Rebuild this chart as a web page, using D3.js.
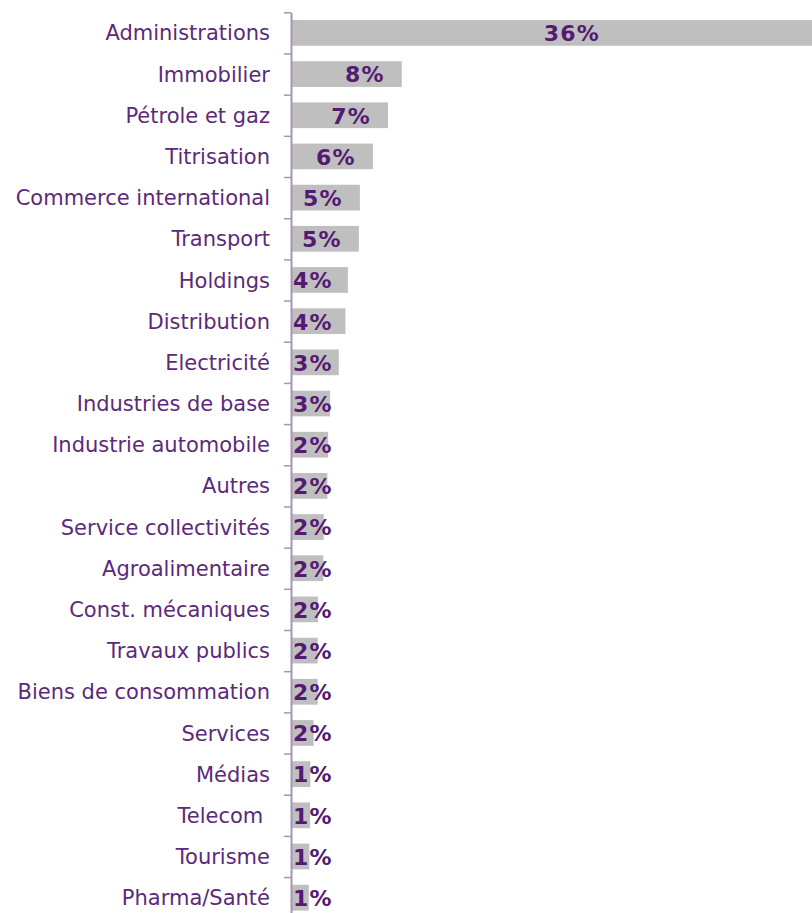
<!DOCTYPE html>
<html>
<head>
<meta charset="utf-8">
<script src="https://cdn.jsdelivr.net/npm/d3@7"></script>
<style>
  html, body { margin: 0; padding: 0; background: #fff; }
  svg { display: block; }
</style>
</head>
<body>
<svg id="chart" width="812" height="913"></svg>
<script>
const categories = [
  "Administrations", "Immobilier", "Pétrole et gaz", "Titrisation",
  "Commerce international", "Transport", "Holdings", "Distribution",
  "Electricité", "Industries de base", "Industrie automobile", "Autres",
  "Service collectivités", "Agroalimentaire", "Const. mécaniques",
  "Travaux publics", "Biens de consommation", "Services", "Médias",
  "Telecom ", "Tourisme", "Pharma/Santé"
];
const values = [
  36, 7.6, 6.65, 5.6, 4.7, 4.63, 3.87, 3.7, 3.24, 2.64, 2.5, 2.45,
  2.2, 2.17, 1.8, 1.78, 1.78, 1.5, 1.27, 1.25, 1.2, 1.16
];
const valueLabels = [
  "36%", "8%", "7%", "6%", "5%", "5%", "4%", "4%", "3%", "3%", "2%", "2%",
  "2%", "2%", "2%", "2%", "2%", "2%", "1%", "1%", "1%", "1%"
];

const W = 812, H = 913;
const axisX = 291;
const plotTop = 12.3, bandStep = 41.18;
const plotBottom = plotTop + bandStep * categories.length;

const svg = d3.select("#chart");

const x = d3.scaleLinear().domain([0, 36]).range([292, 812]);
const y = d3.scaleBand().domain(categories).range([plotTop, plotBottom])
  .paddingInner(0.375).paddingOuter(0.1875);
const yEdge = d3.scaleLinear().domain([0, categories.length]).range([plotTop, plotBottom]);

const data = categories.map((c, i) => ({ c, v: values[i], label: valueLabels[i] }));

// bars
svg.append("g").selectAll("rect").data(data).join("rect")
  .attr("x", x(0))
  .attr("y", d => y(d.c))
  .attr("width", d => x(d.v) - x(0))
  .attr("height", y.bandwidth())
  .attr("fill", "#bfbfbf");

// axis with ticks at band boundaries
const edgeAxis = svg.append("g").attr("transform", `translate(${axisX},0)`)
  .call(d3.axisLeft(yEdge).tickValues(d3.range(0, categories.length + 1))
    .tickFormat("").tickSize(7).tickSizeOuter(0));
edgeAxis.select(".domain").attr("stroke", "#a596b8").attr("stroke-width", 2);
edgeAxis.selectAll(".tick line").attr("stroke", "#a596b8").attr("stroke-width", 1.5);

// category labels
const catAxis = svg.append("g").attr("transform", `translate(${axisX},0)`)
  .call(d3.axisLeft(y).tickSize(0).tickPadding(21));
catAxis.select(".domain").remove();
catAxis.selectAll("text")
  .attr("fill", "#5b2a7a")
  .attr("font-family", "'DejaVu Sans', Verdana, sans-serif")
  .attr("font-size", 21)
  .attr("dy", "0.36em")
  .style("white-space", "pre");

// value labels
const labels = svg.append("g").selectAll("text").data(data).join("text")
  .text(d => d.label)
  .attr("font-family", "'DejaVu Sans', Verdana, sans-serif")
  .attr("font-weight", "bold")
  .attr("font-size", 22)
  .attr("letter-spacing", 1.2)
  .attr("fill", "#541a72")
  .attr("y", d => y(d.c) + y.bandwidth() / 2)
  .attr("dy", "0.38em");

labels.each(function(d) {
  const t = d3.select(this);
  const w = this.getComputedTextLength();
  const end = x(d.v);
  let left;
  if (end >= W - 5) {
    // bar runs to the chart edge: label centred in the visible part
    left = (x(0) + W) / 2 + 20 - w / 2;
  } else {
    left = Math.max(end - 17 - w, 293);
  }
  t.attr("x", left);
});
</script>
</body>
</html>
